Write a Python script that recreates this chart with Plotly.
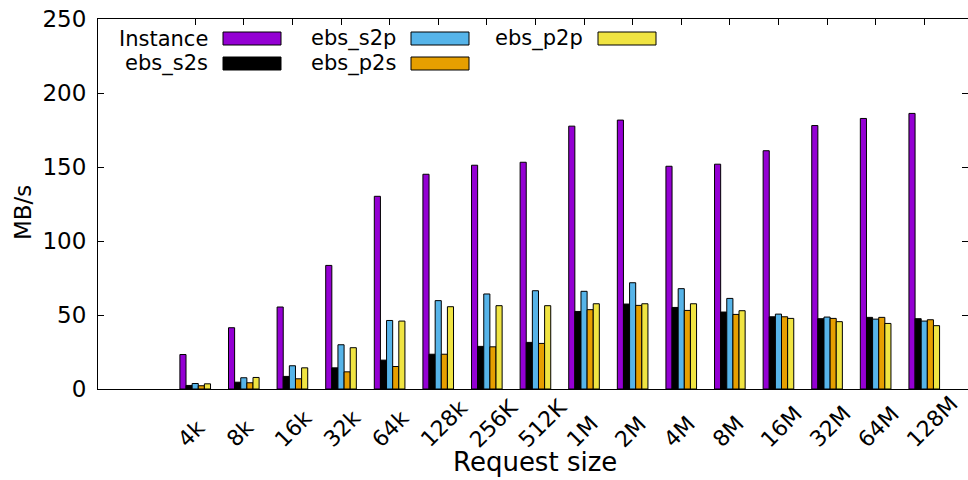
import plotly.graph_objects as go

# Request sizes on the x axis
categories = ["4k", "8k", "16k", "32k", "64k", "128k", "256K", "512K",
              "1M", "2M", "4M", "8M", "16M", "32M", "64M", "128M"]

# Throughput in MB/s for each configuration
instance = [23.3, 41.4, 55.4, 83.5, 130.2, 145.1, 151.2, 153.2,
            177.6, 181.7, 150.5, 151.9, 161.0, 178.0, 182.8, 186.2]
ebs_s2s = [2.4, 4.6, 8.5, 14.3, 19.5, 23.5, 28.8, 31.5,
           52.4, 57.4, 55.1, 52.0, 48.8, 47.5, 48.4, 47.5]
ebs_s2p = [3.7, 7.6, 15.7, 29.9, 46.3, 59.7, 64.2, 66.4,
           66.0, 71.8, 67.8, 61.2, 50.6, 48.6, 47.2, 45.9]
ebs_p2s = [2.2, 4.2, 6.9, 11.6, 15.2, 23.5, 28.5, 30.8,
           53.6, 56.5, 53.1, 50.4, 48.8, 47.7, 48.4, 46.8]
ebs_p2p = [3.5, 7.8, 14.3, 27.9, 45.9, 55.6, 56.3, 56.3,
           57.6, 57.6, 57.6, 52.9, 47.7, 45.5, 44.3, 42.8]

y_ticks = [0, 50, 100, 150, 200, 250]

series = [
    ("Instance", instance, "#9400D3"),
    ("ebs_s2s", ebs_s2s, "#000000"),
    ("ebs_s2p", ebs_s2p, "#56B4E9"),
    ("ebs_p2s", ebs_p2s, "#E69F00"),
    ("ebs_p2p", ebs_p2p, "#F0E442"),
]

W, H = 968, 480
L, R, T, B = 98, 0, 19, 91
PW, PH = W - L - R, H - T - B
FONT = "DejaVu Sans"


def px(x):
    return (x - L) / PW


def py(y):
    return (H - B - y) / PH


xs = list(range(len(categories)))

fig = go.Figure()
for name, vals, color in series:
    fig.add_trace(go.Bar(
        x=xs, y=vals, name=name,
        marker=dict(color=color, line=dict(color="black", width=1)),
        showlegend=False,
    ))

# empty trace so the right-hand mirror axis gets drawn
fig.add_trace(go.Scatter(x=[], y=[], yaxis="y2", showlegend=False))

fig.update_layout(
    width=W, height=H,
    margin=dict(l=L, r=R, t=T, b=B, pad=0),
    paper_bgcolor="white", plot_bgcolor="white",
    barmode="group", bargap=0.37, bargroupgap=0.0,
    font=dict(family=FONT, size=22, color="black"),
    xaxis=dict(
        range=[-2, 15.9], tickvals=xs, showticklabels=False,
        ticks="inside", ticklen=6, tickcolor="black",
        showline=True, linecolor="black", linewidth=1, mirror="ticks",
        showgrid=False, zeroline=False, layer="below traces",
    ),
    yaxis=dict(
        range=[0, 250], tickvals=y_ticks,
        ticks="inside", ticklen=6, tickcolor="black",
        showline=True, linecolor="black", linewidth=1,
        showgrid=False, zeroline=False,
        tickfont=dict(family=FONT, size=23),
        ticklabelstandoff=6,
    ),
    yaxis2=dict(
        range=[0, 250], tickvals=y_ticks, overlaying="y", side="right",
        ticks="inside", ticklen=6, tickcolor="black",
        showticklabels=False, showline=False, showgrid=False, zeroline=False,
    ),
)

annotations = []
# rotated request-size labels, starting just left of each tick
for i, lab in enumerate(categories):
    annotations.append(dict(
        x=i, xref="x", y=py(455), yref="paper", text=lab, showarrow=False,
        textangle=-45, xanchor="left", yanchor="bottom", xshift=-25,
        font=dict(family=FONT, size=22),
    ))

# axis titles
annotations.append(dict(
    x=px(535), y=py(462), xref="paper", yref="paper", text="Request size",
    showarrow=False, xanchor="center", yanchor="middle",
    font=dict(family=FONT, size=26),
))
annotations.append(dict(
    x=px(23), y=py(213), xref="paper", yref="paper", text="MB/s",
    showarrow=False, textangle=-90, xanchor="center", yanchor="middle",
    font=dict(family=FONT, size=23),
))

# key: label to the left of a filled swatch, arranged column by column
shapes = []
key_cols = [210, 398, 585]
key_rows = [38.5, 63.5]
for k, (name, vals, color) in enumerate(series):
    cx = key_cols[k // 2]
    cy = key_rows[k % 2]
    annotations.append(dict(
        x=px(cx), y=py(cy), xref="paper", yref="paper", text=name,
        showarrow=False, xanchor="right", yanchor="middle",
        font=dict(family=FONT, size=21),
    ))
    shapes.append(dict(
        type="rect", xref="paper", yref="paper",
        x0=px(cx + 13), x1=px(cx + 71), y0=py(cy + 6.5), y1=py(cy - 6.5),
        fillcolor=color, line=dict(color="black", width=1),
    ))

fig.update_layout(annotations=annotations, shapes=shapes)
fig.write_html("out.html")
